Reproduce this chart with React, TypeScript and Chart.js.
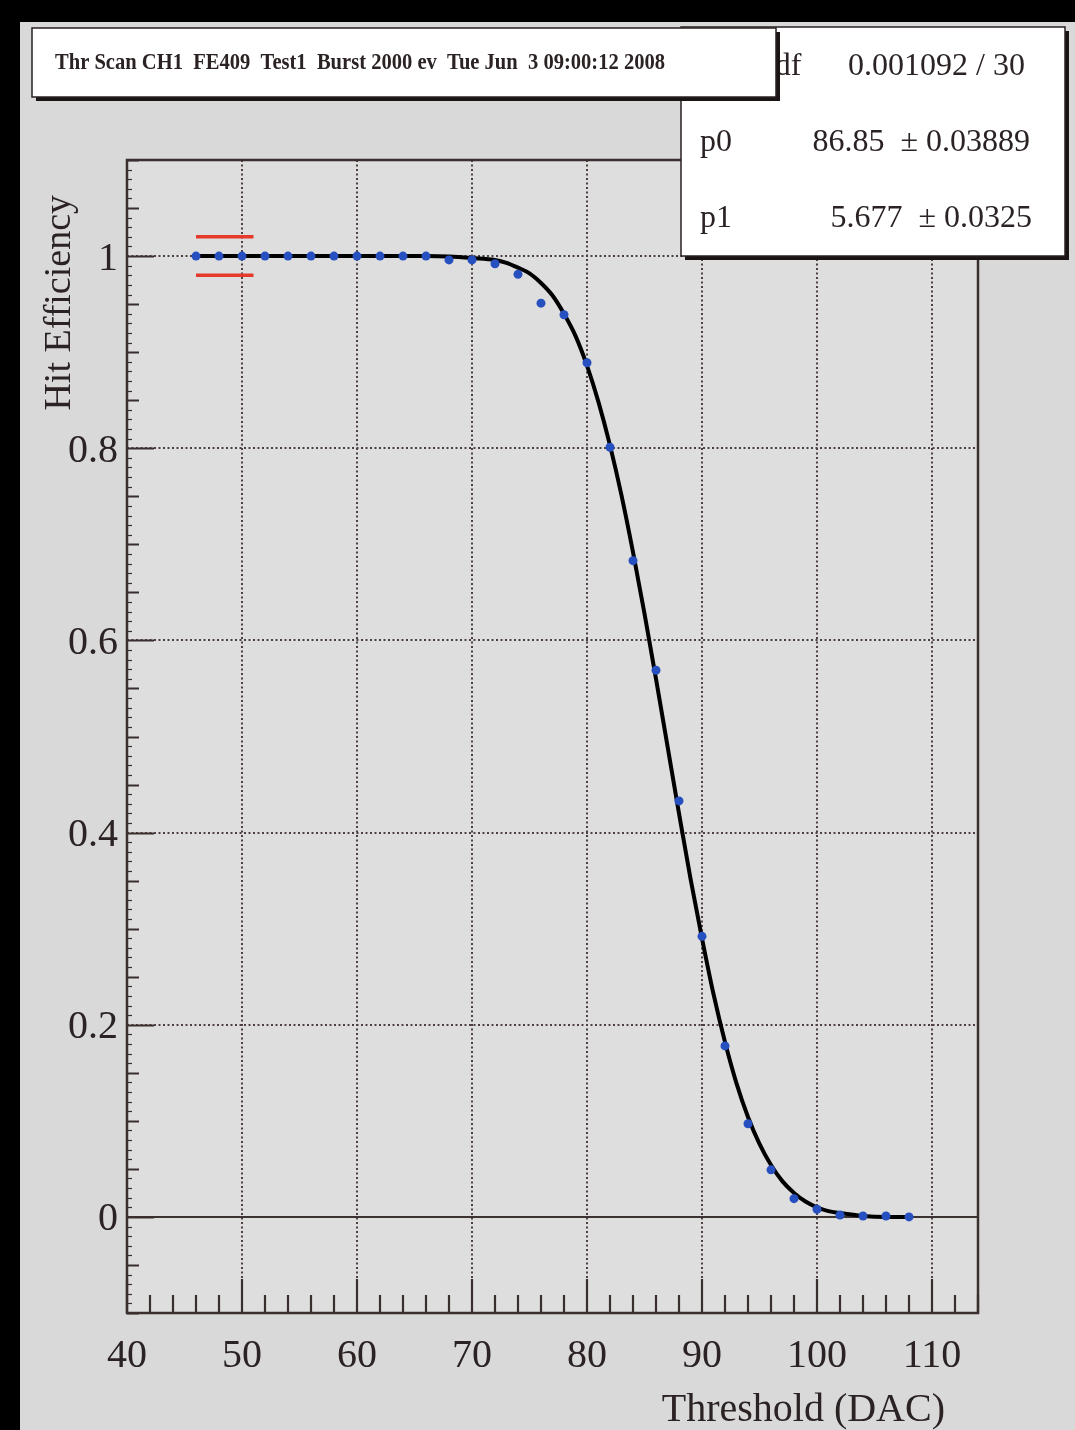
import React, { useEffect, useRef } from 'react';
import { Chart, registerables } from 'chart.js';

Chart.register(...registerables);

// ---- data ----
const thresholds = [46, 48, 50, 52, 54, 56, 58, 60, 62, 64, 66, 68, 70, 72, 74, 76, 78, 80, 82, 84, 86, 88, 90, 92, 94, 96, 98, 100, 102, 104, 106, 108];
const efficiency = [1, 1, 1, 1, 1, 1, 1, 1, 1, 1, 1, 0.996, 0.996, 0.992, 0.981, 0.951, 0.939, 0.889, 0.801, 0.683, 0.569, 0.433, 0.292, 0.178, 0.097, 0.049, 0.019, 0.008, 0.002, 0.001, 0.001, 0];

const fitX = [46, 60, 66, 68, 70, 72, 73, 74, 75, 76, 77, 78, 79, 80, 81, 82, 83, 84, 85, 86, 87, 88, 89, 90, 91, 92, 93, 94, 95, 96, 97, 98, 99, 100, 101, 102, 104, 106, 108];
const fitY = [1, 1, 1, 0.9995, 0.998, 0.996, 0.993, 0.988, 0.982, 0.972, 0.959, 0.94, 0.917, 0.886, 0.848, 0.803, 0.751, 0.692, 0.628, 0.56, 0.49, 0.42, 0.352, 0.29, 0.232, 0.182, 0.139, 0.104, 0.076, 0.054, 0.037, 0.025, 0.016, 0.01, 0.006, 0.004, 0.001, 0, 0];

const refBarX = [46, 51];
const refBarUpper = [1.02, 1.02];
const refBarLower = [0.98, 0.98];

const xTickValues = [40, 50, 60, 70, 80, 90, 100, 110];
const yTickValues = [0, 0.2, 0.4, 0.6, 0.8, 1];
const yTickLabels = ['0', '0.2', '0.4', '0.6', '0.8', '1'];

const titleText = 'Thr Scan CH1  FE409  Test1  Burst 2000 ev  Tue Jun  3 09:00:12 2008';
const statsLabels = ['\u03C7\u00B2 / ndf', 'p0', 'p1'];
const statsValues = ['0.001092 / 30', '86.85  \u00B1 0.03889', '5.677  \u00B1 0.0325'];
const xAxisTitle = 'Threshold (DAC)';
const yAxisTitle = 'Hit Efficiency';

const SERIF = '"Liberation Serif", "DejaVu Serif", serif';
const INK = '#2b2323';

function drawBox(ctx: CanvasRenderingContext2D, x: number, y: number, w: number, h: number) {
  ctx.fillStyle = '#1a1414';
  ctx.fillRect(x + 4, y + 4, w, h);
  ctx.fillStyle = '#ffffff';
  ctx.fillRect(x, y, w, h);
  ctx.strokeStyle = '#2a2020';
  ctx.lineWidth = 1.5;
  ctx.strokeRect(x, y, w, h);
}

const rootPlugin = {
  id: 'rootStyle',
  beforeDraw(chart: any) {
    const { ctx, width, height, chartArea: a } = chart;
    ctx.save();
    ctx.fillStyle = '#d9d9d9';
    ctx.fillRect(0, 0, width, height);
    ctx.fillStyle = '#000000';
    ctx.fillRect(0, 0, width, 22);
    ctx.fillRect(0, 0, 20, height);
    ctx.fillStyle = '#dedede';
    ctx.fillRect(a.left, a.top, a.right - a.left, a.bottom - a.top);
    ctx.restore();
  },
  beforeDatasetsDraw(chart: any) {
    const { ctx, chartArea: a, scales } = chart;
    const xs = scales.x;
    const ys = scales.y;
    ctx.save();
    ctx.strokeStyle = '#4e4040';
    ctx.lineWidth = 2;
    ctx.setLineDash([2, 2.5]);
    for (const v of xTickValues) {
      if (v === 40) continue;
      const px = Math.round(xs.getPixelForValue(v));
      ctx.beginPath();
      ctx.moveTo(px, a.top);
      ctx.lineTo(px, a.bottom);
      ctx.stroke();
    }
    for (const v of yTickValues) {
      if (v === 0) continue;
      const py = Math.round(ys.getPixelForValue(v));
      ctx.beginPath();
      ctx.moveTo(a.left, py);
      ctx.lineTo(a.right, py);
      ctx.stroke();
    }
    ctx.setLineDash([]);
    ctx.strokeStyle = '#3d3232';
    ctx.lineWidth = 2;
    const p0 = Math.round(ys.getPixelForValue(0));
    ctx.beginPath();
    ctx.moveTo(a.left, p0);
    ctx.lineTo(a.right, p0);
    ctx.stroke();
    ctx.restore();
  },
  afterDatasetsDraw(chart: any) {
    const { ctx, chartArea: a, scales } = chart;
    const xs = scales.x;
    const ys = scales.y;
    ctx.save();
    ctx.strokeStyle = '#3a2f2f';
    ctx.lineWidth = 2.5;
    ctx.strokeRect(a.left, a.top, a.right - a.left, a.bottom - a.top);
    // x ticks
    ctx.lineWidth = 2.2;
    for (let v = 40; v <= 114; v += 2) {
      const px = Math.round(xs.getPixelForValue(v));
      const len = v % 10 === 0 ? 34 : 18;
      ctx.beginPath();
      ctx.moveTo(px, a.bottom);
      ctx.lineTo(px, a.bottom - len);
      ctx.stroke();
    }
    // y ticks
    for (let i = -10; i <= 110; i++) {
      const v = i / 100;
      const py = Math.round(ys.getPixelForValue(v)) + 0.5;
      let len = 5;
      ctx.lineWidth = 1.2;
      if (i % 5 === 0) { len = 12; ctx.lineWidth = 2; }
      if (i % 20 === 0 && i >= 0 && i <= 100) len = 27;
      ctx.beginPath();
      ctx.moveTo(a.left, py);
      ctx.lineTo(a.left + len, py);
      ctx.stroke();
    }
    ctx.restore();
  },
  afterDraw(chart: any) {
    const { ctx } = chart;
    ctx.save();
    // axis titles
    ctx.fillStyle = INK;
    ctx.font = `40px ${SERIF}`;
    ctx.textAlign = 'right';
    ctx.textBaseline = 'middle';
    ctx.fillText(xAxisTitle, 945, 1410);
    ctx.save();
    ctx.translate(60, 195);
    ctx.rotate(-Math.PI / 2);
    ctx.font = `38px ${SERIF}`;
    ctx.textAlign = 'right';
    ctx.textBaseline = 'middle';
    ctx.fillText(yAxisTitle, 0, 0);
    ctx.restore();

    // stats box
    drawBox(ctx, 681, 27, 384, 229);
    ctx.fillStyle = INK;
    ctx.font = `32px ${SERIF}`;
    ctx.textBaseline = 'middle';
    const rowY = [67, 143, 219];
    const rowRight = [1025, 1030, 1032];
    const rowLeft = [710, 700, 700];
    statsLabels.forEach((lab, i) => {
      ctx.textAlign = 'left';
      ctx.fillText(lab, rowLeft[i], rowY[i]);
      ctx.textAlign = 'right';
      ctx.fillText(statsValues[i], rowRight[i], rowY[i]);
    });

    // title box
    drawBox(ctx, 32, 28, 744, 69);
    ctx.fillStyle = INK;
    ctx.font = `bold 24px ${SERIF}`;
    ctx.textAlign = 'left';
    ctx.textBaseline = 'middle';
    const w = ctx.measureText(titleText).width;
    ctx.translate(55, 63);
    ctx.scale(610 / w, 1);
    ctx.fillText(titleText, 0, 0);
    ctx.restore();
  },
};

export default function App() {
  const canvasRef = useRef<HTMLCanvasElement | null>(null);

  useEffect(() => {
    const canvas = canvasRef.current;
    if (!canvas) return;
    const chart = new Chart(canvas, {
      type: 'scatter',
      data: {
        datasets: [
          {
            label: 'data',
            data: thresholds.map((x, i) => ({ x, y: efficiency[i] })),
            backgroundColor: '#2650c0',
            borderColor: '#2650c0',
            borderWidth: 0,
            pointRadius: 4.5,
            showLine: false,
            order: 0,
          },
          {
            label: 'upper',
            data: refBarX.map((x, i) => ({ x, y: refBarUpper[i] })),
            borderColor: '#e5392b',
            borderWidth: 3.5,
            pointRadius: 0,
            showLine: true,
            order: 1,
          },
          {
            label: 'lower',
            data: refBarX.map((x, i) => ({ x, y: refBarLower[i] })),
            borderColor: '#e5392b',
            borderWidth: 3.5,
            pointRadius: 0,
            showLine: true,
            order: 1,
          },
          {
            label: 'fit',
            data: fitX.map((x, i) => ({ x, y: fitY[i] })),
            borderColor: '#000000',
            borderWidth: 4,
            pointRadius: 0,
            showLine: true,
            cubicInterpolationMode: 'monotone',
            order: 2,
          },
        ],
      } as any,
      options: {
        responsive: false,
        maintainAspectRatio: false,
        devicePixelRatio: 1,
        animation: false,
        layout: { padding: { left: 0, top: 160, right: 97, bottom: 0 } },
        plugins: {
          legend: { display: false },
          tooltip: { enabled: false },
          title: { display: false },
        },
        scales: {
          x: {
            type: 'linear',
            min: 40,
            max: 114,
            afterFit: (s: any) => { s.height = 117; },
            afterBuildTicks: (s: any) => { s.ticks = xTickValues.map((v) => ({ value: v })); },
            grid: { display: false, drawTicks: false },
            border: { display: false },
            ticks: {
              font: { family: SERIF, size: 40 },
              color: INK,
              padding: 19,
              maxRotation: 0,
              autoSkip: false,
              callback: (v: any) => String(v),
            },
          },
          y: {
            type: 'linear',
            min: -0.1,
            max: 1.1,
            afterFit: (s: any) => { s.width = 127; },
            afterBuildTicks: (s: any) => { s.ticks = yTickValues.map((v) => ({ value: v })); },
            grid: { display: false, drawTicks: false },
            border: { display: false },
            ticks: {
              font: { family: SERIF, size: 40 },
              color: INK,
              padding: 9,
              labelOffset: 3,
              autoSkip: false,
              callback: (v: any) => {
                const idx = yTickValues.findIndex((t) => Math.abs(t - v) < 1e-9);
                return idx >= 0 ? yTickLabels[idx] : '';
              },
            },
          },
        },
      } as any,
      plugins: [rootPlugin as any],
    });
    return () => chart.destroy();
  }, []);

  return (
    <div style={{ position: 'absolute', left: 0, top: 0, width: 1075, height: 1430, overflow: 'hidden' }}>
      <canvas ref={canvasRef} width={1075} height={1430} style={{ display: 'block', width: 1075, height: 1430 }} />
    </div>
  );
}
